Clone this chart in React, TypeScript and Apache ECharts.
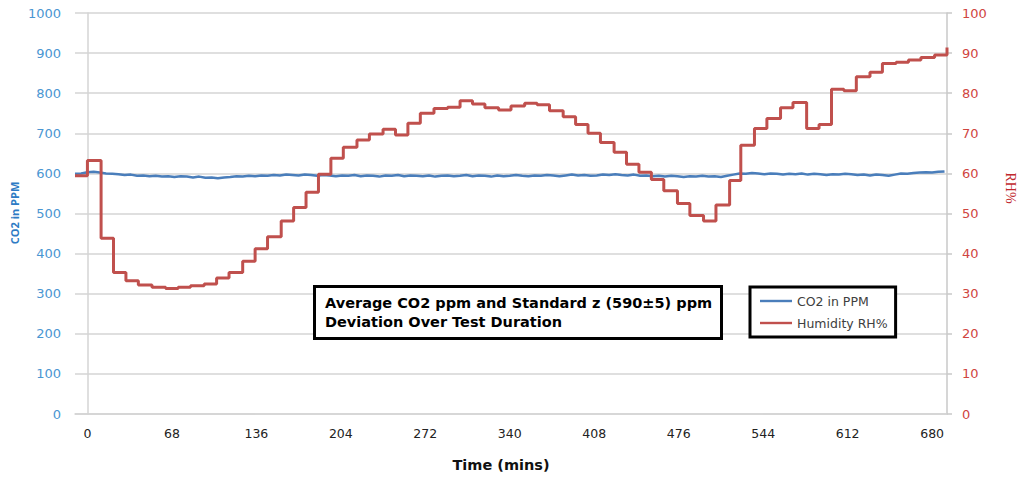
import React, { useEffect, useRef } from "react";
import * as echarts from "echarts";

// ---- data ----
const timeTickLabels = [0, 68, 136, 204, 272, 340, 408, 476, 544, 612, 680];

// CO2 sampled every 5 minutes starting at -10 min
const CO2_START_MIN = -10;
const CO2_SAMPLE_MIN = 5;
const co2Ppm = [
  599, 600, 603, 604, 602, 600, 599, 598, 596, 597,
  594, 595, 593, 594, 592, 593, 591, 593, 592, 590,
  592, 589, 590, 588, 590, 591, 593, 592, 594, 593,
  595, 594, 596, 595, 597, 596, 595, 597, 596, 594,
  596, 595, 593, 595, 594, 596, 593, 595, 594, 592,
  595, 594, 596, 593, 595, 594, 593, 595, 592, 594,
  595, 593, 594, 596, 593, 595, 594, 592, 595, 593,
  594, 596, 594, 593, 595, 594, 596, 595, 593, 595,
  597, 595, 596, 594, 595, 597, 596, 598, 596, 595,
  597, 594, 595, 593, 594, 592, 594, 593, 591, 593,
  592, 594, 592, 593, 591, 594, 597, 600, 599, 601,
  600, 598, 600, 599, 597, 599, 598, 600, 597, 599,
  598, 596, 598, 597, 599, 598, 596, 597, 595, 597,
  596, 594, 597, 600, 599, 601, 602, 603, 602, 604,
  605,
];

// Humidity steps: time (mins) at which each level starts, and the level (RH%)
const rhTimes = [
  -10, 0, 11, 21, 31, 41, 52, 63, 73, 83,
  94, 104, 114, 125, 135, 145, 156, 166, 176, 186,
  196, 206, 217, 227, 238, 248, 258, 268, 279, 290,
  300, 310, 320, 331, 341, 352, 362, 372, 383, 393,
  403, 413, 424, 434, 444, 454, 464, 475, 485, 496,
  506, 517, 526, 537, 547, 558, 568, 579, 589, 599,
  609, 619, 630, 640, 651, 661, 671, 682, 692,
];
const rhValues = [
  59.4, 63.2, 43.8, 35.3, 33.2, 32.2, 31.6, 31.3, 31.6, 32.0,
  32.4, 33.9, 35.3, 38.1, 41.2, 44.2, 48.1, 51.5, 55.3, 59.8,
  63.8, 66.5, 68.3, 69.8, 71.0, 69.6, 72.5, 75.0, 76.2, 76.5,
  78.1, 77.3, 76.4, 75.8, 76.8, 77.5, 77.1, 75.6, 74.1, 72.2,
  70.0, 67.7, 65.3, 62.3, 60.3, 58.5, 55.7, 52.5, 49.5, 48.1,
  52.1, 58.2, 67.0, 71.2, 73.7, 76.4, 77.7, 71.2, 72.2, 81.0,
  80.6, 84.1, 85.2, 87.4, 87.7, 88.3, 88.9, 89.5, 91.4,
];

const titleLines = [
  "Average CO2 ppm and Standard z (590±5) ppm",
  "Deviation Over Test Duration",
];

const BLUE = "#4A7EBB";
const RED = "#C0504D";
const GRID = "#D4D4D4";
// thin horizontal bar centred in a 32x14 legend cell
const LEGEND_LINE_ICON = "path://M0,0 M32,14 M0,5.8 L32,5.8 L32,8.2 L0,8.2 Z";

export default function App() {
  const ref = useRef<HTMLDivElement>(null);

  useEffect(() => {
    if (!ref.current) return;
    const chart = echarts.init(ref.current, undefined, { renderer: "svg" });

    const co2Data = co2Ppm.map((v, i) => [CO2_START_MIN + i * CO2_SAMPLE_MIN, v]);
    const rhData = rhTimes.map((t, i) => [t, rhValues[i]]);

    chart.setOption({
      animation: false,
      backgroundColor: "#ffffff",
      textStyle: { fontFamily: "DejaVu Sans" },
      grid: { left: 75, right: 77, top: 13, bottom: 67, containLabel: false },
      title: {
        text: titleLines.join("\n"),
        left: 314,
        top: 286,
        padding: [7, 10, 8, 11],
        borderColor: "#000",
        borderWidth: 3,
        backgroundColor: "#fff",
        textStyle: {
          fontFamily: "DejaVu Sans",
          fontWeight: "bold",
          fontSize: 14.5,
          lineHeight: 19,
          color: "#000",
        },
      },
      legend: {
        orient: "vertical",
        left: 750,
        top: 287,
        padding: [7, 8, 7, 10],
        itemGap: 8,
        itemWidth: 32,
        itemHeight: 14,
        icon: LEGEND_LINE_ICON,
        borderColor: "#000",
        borderWidth: 3,
        backgroundColor: "#fff",
        textStyle: { fontFamily: "DejaVu Sans", fontSize: 12.5, color: "#404040" },
        data: ["CO2 in PPM", "Humidity RH%"],
      },
      xAxis: {
        type: "value",
        min: -10,
        max: 692,
        axisLine: { show: true, lineStyle: { color: GRID, width: 1.5 } },
        axisTick: { show: false },
        splitLine: { show: false },
        axisLabel: {
          customValues: timeTickLabels,
          color: "#222",
          fontSize: 12.5,
          margin: 13,
          fontFamily: "DejaVu Sans",
        },
      },
      yAxis: [
        {
          type: "value",
          min: 0,
          max: 1000,
          interval: 100,
          position: "left",
          axisLine: { show: true, lineStyle: { color: GRID, width: 1.5 } },
          axisTick: { show: false },
          splitLine: { show: true, lineStyle: { color: GRID, width: 1.5 } },
          axisLabel: {
            color: "#4A96D2",
            fontSize: 13,
            margin: 14,
            fontFamily: "DejaVu Sans",
            formatter: (v: number) => String(v),
          },
        },
        {
          type: "value",
          min: 0,
          max: 100,
          interval: 10,
          position: "right",
          axisLine: { show: true, lineStyle: { color: "#C8C8C8", width: 1.5 } },
          axisTick: { show: true, length: 5, lineStyle: { color: "#C8C8C8", width: 1.5 } },
          splitLine: { show: false },
          axisLabel: {
            color: "#D0453F",
            fontSize: 13,
            margin: 15,
            fontFamily: "DejaVu Sans",
            formatter: (v: number) => String(v),
          },
        },
      ],
      graphic: [
        {
          type: "text",
          x: 14,
          y: 213,
          rotation: Math.PI / 2,
          style: {
            text: "CO2 in PPM",
            fill: "#2E7BC4",
            font: "bold 11px 'Open Sans'",
            align: "center",
            verticalAlign: "middle",
          },
        },
        {
          type: "text",
          x: 1010,
          y: 188,
          rotation: -Math.PI / 2,
          style: {
            text: "RH%",
            fill: "#C0282D",
            font: "14px 'Liberation Serif'",
            align: "center",
            verticalAlign: "middle",
          },
        },
        {
          type: "text",
          x: 501,
          y: 465,
          style: {
            text: "Time (mins)",
            fill: "#111",
            font: "bold 14.5px 'DejaVu Sans'",
            align: "center",
            verticalAlign: "middle",
          },
        },
      ],
      series: [
        {
          name: "CO2 in PPM",
          type: "line",
          yAxisIndex: 0,
          data: co2Data,
          symbol: "none",
          showSymbol: false,
          lineStyle: { color: BLUE, width: 2.5 },
          itemStyle: { color: BLUE },
          z: 2,
        },
        {
          name: "Humidity RH%",
          type: "line",
          yAxisIndex: 1,
          step: "end",
          data: rhData,
          symbol: "none",
          showSymbol: false,
          lineStyle: { color: RED, width: 3 },
          itemStyle: { color: RED },
          z: 3,
        },
      ],
    });

    return () => chart.dispose();
  }, []);

  return (
    <div
      ref={ref}
      style={{ position: "fixed", left: 0, top: 0, width: 1024, height: 481, background: "#fff" }}
    />
  );
}
